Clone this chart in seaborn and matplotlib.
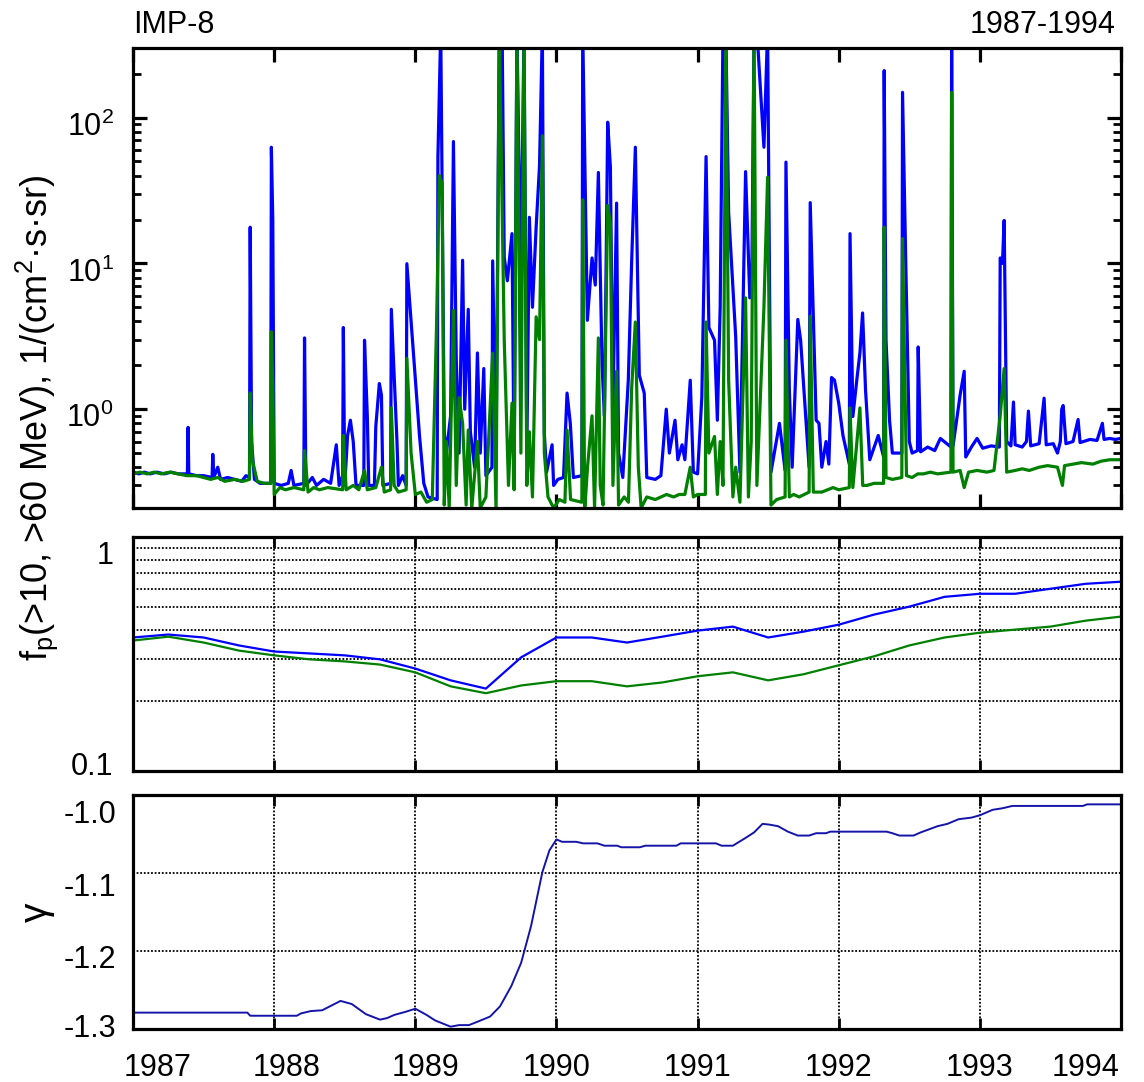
import matplotlib
matplotlib.use("Agg")
import matplotlib.pyplot as plt
import matplotlib.ticker as mticker
import matplotlib.transforms as mtrans
import pandas as pd
import seaborn as sns

# ---------------- data ----------------
# top panel: proton flux (>10 MeV blue, >60 MeV green)
blue_points = [
    (1987.00, 0.37), (1987.04, 0.36), (1987.08, 0.37), (1987.12, 0.36), (1987.17, 0.37), (1987.22, 0.36),
    (1987.27, 0.37), (1987.32, 0.36), (1987.385, 0.36), (1987.39, 0.75), (1987.395, 0.36), (1987.45, 0.35),
    (1987.50, 0.35), (1987.56, 0.34), (1987.565, 0.49), (1987.572, 0.34), (1987.60, 0.40), (1987.62, 0.33),
    (1987.67, 0.34), (1987.72, 0.33), (1987.77, 0.32), (1987.80, 0.35), (1987.825, 0.34), (1987.83, 17.7),
    (1987.84, 0.6), (1987.86, 0.33), (1987.90, 0.31), (1987.95, 0.31), (1987.975, 0.31), (1987.98, 62.6),
    (1987.99, 20), (1988.00, 0.31), (1988.05, 0.30), (1988.10, 0.31), (1988.12, 0.38), (1988.14, 0.30),
    (1988.21, 0.31), (1988.215, 3.08), (1988.225, 0.30), (1988.27, 0.34), (1988.30, 0.30), (1988.35, 0.33),
    (1988.40, 0.31), (1988.44, 0.57), (1988.46, 0.30), (1988.485, 0.35), (1988.49, 3.63), (1988.50, 0.30),
    (1988.52, 0.66), (1988.54, 0.84), (1988.56, 0.60), (1988.58, 0.30), (1988.635, 0.30), (1988.64, 2.97),
    (1988.66, 0.89), (1988.67, 0.30), (1988.71, 0.30), (1988.72, 0.76), (1988.745, 1.50), (1988.76, 1.25),
    (1988.77, 0.30), (1988.825, 0.31), (1988.83, 4.84), (1988.87, 0.60), (1988.88, 0.30), (1988.91, 0.35),
    (1988.935, 0.30), (1988.94, 9.95), (1988.985, 2.53), (1989.03, 0.65), (1989.06, 0.31), (1989.09, 0.25),
    (1989.155, 0.24), (1989.16, 53.5), (1989.18, 400), (1989.205, 0.69), (1989.22, 0.50), (1989.25, 0.90),
    (1989.27, 68.5), (1989.29, 2.2), (1989.31, 0.50), (1989.335, 10.5), (1989.35, 1.0), (1989.375, 4.84),
    (1989.39, 0.70), (1989.42, 0.40), (1989.44, 2.43), (1989.46, 0.50), (1989.485, 1.9), (1989.50, 0.35),
    (1989.543, 0.40), (1989.548, 10.4), (1989.572, 0.45), (1989.595, 400), (1989.615, 400), (1989.63, 11),
    (1989.652, 7.6), (1989.685, 16), (1989.70, 0.37), (1989.72, 400), (1989.748, 7.1), (1989.77, 400),
    (1989.79, 0.5), (1989.808, 20.7), (1989.83, 5.0), (1989.856, 17.7), (1989.88, 46.8), (1989.90, 400),
    (1989.914, 0.68), (1989.93, 0.37), (1989.969, 0.57), (1989.98, 0.30), (1990.01, 0.33), (1990.05, 0.34),
    (1990.075, 1.29), (1990.098, 0.80), (1990.12, 0.34), (1990.18, 0.35), (1990.186, 400), (1990.219, 4.07),
    (1990.252, 10.9), (1990.275, 7.1), (1990.297, 42), (1990.323, 2.0), (1990.34, 0.9), (1990.363, 93),
    (1990.382, 46), (1990.40, 1.0), (1990.426, 25.9), (1990.44, 0.5), (1990.47, 0.34), (1990.509, 1.58),
    (1990.533, 10.4), (1990.559, 62.6), (1990.587, 1.71), (1990.622, 1.29), (1990.64, 0.34), (1990.70, 0.33),
    (1990.74, 0.35), (1990.778, 1.0), (1990.80, 0.5), (1990.84, 0.84), (1990.86, 0.45), (1990.89, 0.57),
    (1990.91, 0.45), (1990.948, 1.58), (1990.97, 0.37), (1991.00, 0.36), (1991.03, 1.21), (1991.06, 54),
    (1991.08, 3.63), (1991.12, 2.97), (1991.14, 0.84), (1991.16, 5.0), (1991.18, 400), (1991.20, 400),
    (1991.22, 22.4), (1991.27, 3.13), (1991.30, 0.37), (1991.34, 42.6), (1991.37, 5.8), (1991.385, 9.9),
    (1991.40, 400), (1991.42, 400), (1991.47, 62.6), (1991.496, 400), (1991.52, 0.37), (1991.58, 0.8),
    (1991.62, 0.38), (1991.626, 49.5), (1991.65, 1.35), (1991.67, 0.40), (1991.71, 4.13), (1991.73, 2.97),
    (1991.79, 0.40), (1991.798, 26.1), (1991.84, 0.84), (1991.86, 0.80), (1991.88, 0.40), (1991.91, 0.60),
    (1991.93, 0.42), (1991.949, 1.65), (1991.97, 1.58), (1992.00, 1.1), (1992.03, 0.66), (1992.075, 0.42),
    (1992.08, 16), (1992.10, 0.89), (1992.13, 1.65), (1992.15, 2.43), (1992.169, 4.57), (1992.19, 1.35),
    (1992.22, 0.45), (1992.28, 0.66), (1992.318, 0.47), (1992.322, 210), (1992.335, 2.97), (1992.36, 0.84),
    (1992.38, 0.50), (1992.447, 0.50), (1992.452, 149), (1992.476, 8.95), (1992.50, 0.60), (1992.52, 0.50),
    (1992.558, 0.52), (1992.563, 2.67), (1992.58, 0.51), (1992.63, 0.55), (1992.68, 0.52), (1992.72, 0.63),
    (1992.795, 0.55), (1992.80, 400), (1992.81, 0.56), (1992.86, 1.25), (1992.889, 1.82), (1992.90, 0.47),
    (1992.94, 0.55), (1992.98, 0.63), (1993.02, 0.54), (1993.08, 0.56), (1993.138, 0.55), (1993.144, 10.9),
    (1993.16, 10.0), (1993.172, 19.7), (1993.19, 0.60), (1993.22, 0.56), (1993.238, 1.12), (1993.25, 0.57),
    (1993.30, 0.55), (1993.33, 0.60), (1993.344, 0.97), (1993.36, 0.56), (1993.42, 0.58), (1993.455, 1.19),
    (1993.47, 0.57), (1993.52, 0.58), (1993.55, 0.50), (1993.57, 0.60), (1993.58, 1.0), (1993.59, 1.06),
    (1993.61, 0.58), (1993.66, 0.60), (1993.696, 0.85), (1993.71, 0.59), (1993.78, 0.62), (1993.83, 0.61),
    (1993.868, 0.80), (1993.88, 0.62), (1993.92, 0.63), (1993.96, 0.62), (1994.00, 0.63),
]
green_points = [
    (1987.00, 0.36), (1987.05, 0.37), (1987.10, 0.36), (1987.15, 0.37), (1987.20, 0.36), (1987.26, 0.37),
    (1987.32, 0.36), (1987.38, 0.35), (1987.45, 0.35), (1987.50, 0.34), (1987.55, 0.33), (1987.60, 0.34),
    (1987.65, 0.32), (1987.72, 0.33), (1987.78, 0.32), (1987.825, 0.33), (1987.83, 1.29), (1987.845, 0.45),
    (1987.88, 0.32), (1987.93, 0.31), (1987.975, 0.31), (1987.98, 3.39), (1987.99, 1.5), (1988.00, 0.26),
    (1988.04, 0.29), (1988.08, 0.28), (1988.14, 0.29), (1988.21, 0.28), (1988.215, 0.52), (1988.24, 0.27),
    (1988.28, 0.29), (1988.32, 0.28), (1988.38, 0.29), (1988.485, 0.28), (1988.49, 0.66), (1988.51, 0.28),
    (1988.56, 0.30), (1988.60, 0.28), (1988.64, 0.38), (1988.66, 0.28), (1988.72, 0.29), (1988.76, 0.40),
    (1988.78, 0.27), (1988.825, 0.28), (1988.83, 1.02), (1988.85, 0.30), (1988.88, 0.27), (1988.935, 0.28),
    (1988.94, 2.23), (1988.97, 0.50), (1989.00, 0.26), (1989.04, 0.27), (1989.08, 0.23), (1989.12, 0.24),
    (1989.15, 3.6), (1989.17, 40), (1989.19, 35), (1989.205, 0.22), (1989.22, 0.60), (1989.24, 0.21),
    (1989.27, 4.76), (1989.29, 0.30), (1989.31, 1.2), (1989.335, 0.80), (1989.36, 0.22), (1989.375, 0.72),
    (1989.40, 0.21), (1989.44, 0.60), (1989.46, 0.21), (1989.50, 0.25), (1989.548, 2.42), (1989.572, 0.20),
    (1989.595, 400), (1989.63, 2.97), (1989.66, 0.30), (1989.685, 1.1), (1989.70, 0.28), (1989.72, 400),
    (1989.748, 0.50), (1989.77, 400), (1989.79, 0.30), (1989.808, 0.70), (1989.83, 0.25), (1989.856, 4.3),
    (1989.88, 3.0), (1989.90, 75), (1989.914, 0.50), (1989.94, 0.25), (1989.98, 0.21), (1990.02, 0.24),
    (1990.06, 0.23), (1990.075, 0.72), (1990.10, 0.24), (1990.18, 0.23), (1990.186, 27.3), (1990.20, 0.20),
    (1990.22, 0.40), (1990.252, 0.90), (1990.27, 0.21), (1990.297, 3.08), (1990.31, 0.30), (1990.33, 0.22),
    (1990.363, 25), (1990.382, 18.8), (1990.40, 0.30), (1990.426, 1.82), (1990.44, 0.22), (1990.48, 0.25),
    (1990.51, 0.23), (1990.533, 1.4), (1990.559, 3.96), (1990.58, 0.40), (1990.60, 0.21), (1990.64, 0.25),
    (1990.70, 0.24), (1990.74, 0.25), (1990.78, 0.26), (1990.83, 0.25), (1990.87, 0.26), (1990.91, 0.26),
    (1990.948, 0.40), (1990.97, 0.25), (1991.00, 0.26), (1991.055, 0.26), (1991.06, 3.96), (1991.08, 0.50),
    (1991.12, 0.65), (1991.14, 0.26), (1991.16, 0.60), (1991.18, 0.30), (1991.20, 400), (1991.22, 1.58),
    (1991.25, 0.25), (1991.27, 0.40), (1991.30, 0.23), (1991.34, 5.8), (1991.36, 0.25), (1991.38, 0.60),
    (1991.40, 400), (1991.42, 0.30), (1991.47, 5.0), (1991.496, 39), (1991.52, 0.22), (1991.56, 0.24),
    (1991.62, 0.25), (1991.626, 2.97), (1991.65, 0.25), (1991.68, 0.26), (1991.72, 0.25), (1991.79, 0.27),
    (1991.798, 4.33), (1991.82, 0.27), (1991.88, 0.27), (1991.92, 0.28), (1991.96, 0.29), (1992.00, 0.28),
    (1992.075, 0.29), (1992.08, 1.02), (1992.10, 0.29), (1992.15, 1.02), (1992.17, 0.30), (1992.20, 0.30),
    (1992.25, 0.31), (1992.318, 0.31), (1992.322, 17.7), (1992.335, 0.34), (1992.38, 0.33), (1992.447, 0.34),
    (1992.452, 14.8), (1992.48, 0.35), (1992.52, 0.34), (1992.56, 0.36), (1992.60, 0.36), (1992.65, 0.37),
    (1992.70, 0.36), (1992.795, 0.37), (1992.80, 149), (1992.81, 0.37), (1992.86, 0.38), (1992.889, 0.29),
    (1992.92, 0.37), (1992.98, 0.38), (1993.05, 0.37), (1993.10, 0.38), (1993.144, 0.9), (1993.172, 1.9),
    (1993.19, 0.37), (1993.25, 0.38), (1993.30, 0.39), (1993.35, 0.38), (1993.42, 0.40), (1993.48, 0.41),
    (1993.55, 0.40), (1993.585, 0.30), (1993.60, 0.41), (1993.66, 0.42), (1993.72, 0.43), (1993.80, 0.42),
    (1993.86, 0.44), (1993.92, 0.45), (1994.00, 0.45),
]

# middle panel: quarterly f_p values
fp_years = [1987.00, 1987.25, 1987.50, 1987.75, 1988.00, 1988.25, 1988.50, 1988.75, 1989.00, 1989.25,
            1989.50, 1989.75, 1990.00, 1990.25, 1990.50, 1990.75, 1991.00, 1991.25, 1991.50, 1991.75,
            1992.00, 1992.25, 1992.50, 1992.75, 1993.00, 1993.25, 1993.50, 1993.75, 1994.00]
fp_blue = [0.372, 0.383, 0.372, 0.344, 0.324, 0.318, 0.312, 0.300, 0.274, 0.244, 0.225, 0.306, 0.372,
           0.372, 0.354, 0.375, 0.398, 0.414, 0.372, 0.394, 0.422, 0.466, 0.504, 0.555, 0.572, 0.572,
           0.601, 0.631, 0.644]
fp_green = [0.361, 0.375, 0.354, 0.327, 0.312, 0.300, 0.294, 0.285, 0.264, 0.230, 0.215, 0.232, 0.242,
            0.242, 0.230, 0.239, 0.254, 0.264, 0.244, 0.259, 0.283, 0.309, 0.344, 0.372, 0.390, 0.402,
            0.414, 0.439, 0.457]

# bottom panel: spectral index gamma
gamma_years = [1987.00, 1987.81, 1987.83, 1988.16, 1988.19, 1988.26, 1988.34, 1988.47, 1988.55, 1988.65,
               1988.75, 1988.80, 1988.85, 1988.93, 1989.00, 1989.08, 1989.14, 1989.25, 1989.31, 1989.38,
               1989.45, 1989.53, 1989.60, 1989.68, 1989.75, 1989.82, 1989.90, 1989.95, 1990.00, 1990.04,
               1990.14, 1990.19, 1990.29, 1990.34, 1990.43, 1990.46, 1990.59, 1990.63, 1990.85, 1990.88,
               1991.13, 1991.17, 1991.25, 1991.34, 1991.40, 1991.46, 1991.51, 1991.57, 1991.64, 1991.71,
               1991.79, 1991.84, 1991.91, 1991.94, 1992.34, 1992.38, 1992.43, 1992.53, 1992.58, 1992.70,
               1992.77, 1992.85, 1992.94, 1993.00, 1993.09, 1993.16, 1993.23, 1993.73, 1993.76, 1994.00]
gamma_vals = [-1.279, -1.279, -1.283, -1.283, -1.280, -1.277, -1.276, -1.264, -1.268, -1.281,
              -1.288, -1.286, -1.282, -1.278, -1.274, -1.282, -1.289, -1.297, -1.295, -1.295,
              -1.290, -1.284, -1.271, -1.245, -1.215, -1.168, -1.099, -1.071, -1.057, -1.060,
              -1.060, -1.062, -1.062, -1.065, -1.065, -1.067, -1.067, -1.065, -1.065, -1.062,
              -1.062, -1.065, -1.065, -1.055, -1.048, -1.037, -1.038, -1.040, -1.047, -1.052,
              -1.052, -1.049, -1.049, -1.047, -1.047, -1.049, -1.052, -1.052, -1.048, -1.040,
              -1.037, -1.031, -1.029, -1.026, -1.019, -1.017, -1.014, -1.014, -1.012, -1.012]

year_ticks = [1987, 1988, 1989, 1990, 1991, 1992, 1993, 1994]
year_labels = ["1987", "1988", "1989", "1990", "1991", "1992", "1993", "1994"]
fp_tick_vals = [0.1, 1.0]
fp_tick_labels = ["0.1", "1"]
gamma_tick_vals = [-1.0, -1.1, -1.2, -1.3]
gamma_tick_labels = ["-1.0", "-1.1", "-1.2", "-1.3"]

# ---------------- style ----------------
sns.set_theme(style="ticks")
plt.rcParams["font.family"] = ["Liberation Sans", "DejaVu Sans"]
plt.rcParams["mathtext.fontset"] = "custom"
plt.rcParams["mathtext.rm"] = "Liberation Sans"
plt.rcParams["mathtext.it"] = "Liberation Sans:italic"
plt.rcParams["mathtext.bf"] = "Liberation Sans:bold"
plt.rcParams["axes.linewidth"] = 2.3
plt.rcParams["axes.edgecolor"] = "black"
plt.rcParams["text.color"] = "black"
plt.rcParams["axes.labelcolor"] = "black"
plt.rcParams["xtick.color"] = "black"
plt.rcParams["ytick.color"] = "black"
plt.rcParams["xtick.labelcolor"] = "black"
plt.rcParams["ytick.labelcolor"] = "black"

BLUE = "#0000ff"
GREEN = "#008000"
NAVY = "#1414a8"
FS = 22

fig = plt.figure(figsize=(11.44, 10.82), dpi=100)
ax1 = fig.add_axes([0.1163, 0.5305, 0.8636, 0.4251])
ax2 = fig.add_axes([0.1163, 0.28743, 0.8636, 0.21627])
ax3 = fig.add_axes([0.1163, 0.04898, 0.8636, 0.21627])

def shift(label, dx_px, dy_px):
    label.set_transform(label.get_transform() +
                        mtrans.ScaledTranslation(dx_px / 100.0, -dy_px / 100.0, fig.dpi_scale_trans))

# ---------------- top panel ----------------
df_b = pd.DataFrame(blue_points, columns=["year", "flux"])
df_g = pd.DataFrame(green_points, columns=["year", "flux"])
sns.lineplot(data=df_b, x="year", y="flux", ax=ax1, color=BLUE, linewidth=2.3,
             estimator=None, sort=False)
sns.lineplot(data=df_g, x="year", y="flux", ax=ax1, color=GREEN, linewidth=2.3,
             estimator=None, sort=False)
ax1.set_yscale("log")
ax1.set_ylim(0.21, 300)
ax1.set_xlim(1987, 1994)
ax1.set_xticks(year_ticks)
ax1.yaxis.set_major_locator(mticker.FixedLocator([1, 10, 100]))
ax1.yaxis.set_major_formatter(mticker.LogFormatterSciNotation())
ax1.yaxis.set_minor_locator(mticker.LogLocator(base=10, subs=[2, 3, 4, 5, 6, 7, 8, 9]))
ax1.yaxis.set_minor_formatter(mticker.NullFormatter())
ax1.tick_params(axis="both", which="major", direction="in", length=10, width=2.3,
                top=True, right=True, labelsize=FS, pad=14)
ax1.tick_params(axis="y", which="minor", direction="in", length=6, width=2.0, right=True, left=True)
ax1.tick_params(axis="x", which="both", labelbottom=False)
ax1.set_xlabel("")
ax1.set_ylabel("")
for lab in ax1.get_yticklabels():
    shift(lab, 0, 6)

# ---------------- middle panel ----------------
df_fp = pd.DataFrame({"year": fp_years, "blue": fp_blue, "green": fp_green})
sns.lineplot(data=df_fp, x="year", y="blue", ax=ax2, color=BLUE, linewidth=1.6, estimator=None)
sns.lineplot(data=df_fp, x="year", y="green", ax=ax2, color=GREEN, linewidth=1.6, estimator=None)
ax2.set_yscale("log")
ax2.set_ylim(0.1, 1.0)
ax2.set_xlim(1987, 1994)
ax2.set_xticks(year_ticks)
ax2.yaxis.set_major_locator(mticker.FixedLocator(fp_tick_vals))
ax2.yaxis.set_major_formatter(mticker.FixedFormatter(fp_tick_labels))
ax2.yaxis.set_minor_locator(mticker.FixedLocator([0.2, 0.3, 0.4, 0.5, 0.6, 0.7, 0.8, 0.9]))
ax2.yaxis.set_minor_formatter(mticker.NullFormatter())
ax2.grid(which="minor", axis="y", color="black", linestyle=(0, (1, 1)), linewidth=1.3)
ax2.grid(which="major", axis="x", color="black", linestyle=(0, (1, 1)), linewidth=1.3)
ax2.tick_params(axis="x", which="major", direction="in", length=8, width=2.0, top=True,
                labelbottom=False)
ax2.tick_params(axis="y", which="major", direction="in", length=0, labelsize=FS, pad=14)
ax2.tick_params(axis="y", which="minor", length=0)
ax2.set_xlabel("")
ax2.set_ylabel("")
ylab = ax2.get_yticklabels()
shift(ylab[0], 0, -8)
shift(ylab[1], 0, 16)

# ---------------- bottom panel ----------------
df_g3 = pd.DataFrame({"year": gamma_years, "gamma": gamma_vals})
sns.lineplot(data=df_g3, x="year", y="gamma", ax=ax3, color=NAVY, linewidth=1.4, estimator=None)
ax3.set_ylim(-1.3, -1.0)
ax3.set_xlim(1987, 1994)
ax3.set_xticks(year_ticks, labels=year_labels)
ax3.set_yticks(gamma_tick_vals, labels=gamma_tick_labels)
ax3.grid(which="major", color="black", linestyle=(0, (1, 1)), linewidth=1.3)
ax3.tick_params(axis="x", which="major", direction="in", length=8, width=2.0, top=True,
                labelsize=FS, pad=17)
ax3.tick_params(axis="y", which="major", direction="in", length=0, labelsize=FS, pad=12)
ax3.set_xlabel("")
ax3.set_ylabel("")
xl = ax3.get_xticklabels()
shift(xl[0], 25, 0)
shift(xl[1], 12, 0)
shift(xl[2], 10, 0)
shift(xl[7], -36, 0)
yl3 = ax3.get_yticklabels()
for lab, dy in zip(yl3, [17, 11, 5, -4]):
    shift(lab, 0, dy)

for ax in (ax1, ax2, ax3):
    for sp in ax.spines.values():
        sp.set_linewidth(2.3)
        sp.set_color("black")

# ---------------- texts ----------------
fig.text(0.1163, 0.977, "IMP-8", fontsize=22, ha="left", va="center")
fig.text(0.975, 0.977, "1987-1994", fontsize=22, ha="right", va="center")
fig.text(0.032, 0.614, r"f$_\mathregular{p}$(>10, >60 MeV), 1/(cm$^\mathregular{2}$·s·sr)",
         rotation=90, fontsize=26, ha="center", va="center")
fig.text(0.032, 0.157, "γ", rotation=90, fontsize=28, ha="center", va="center")

fig.savefig("out.png", dpi=100)
